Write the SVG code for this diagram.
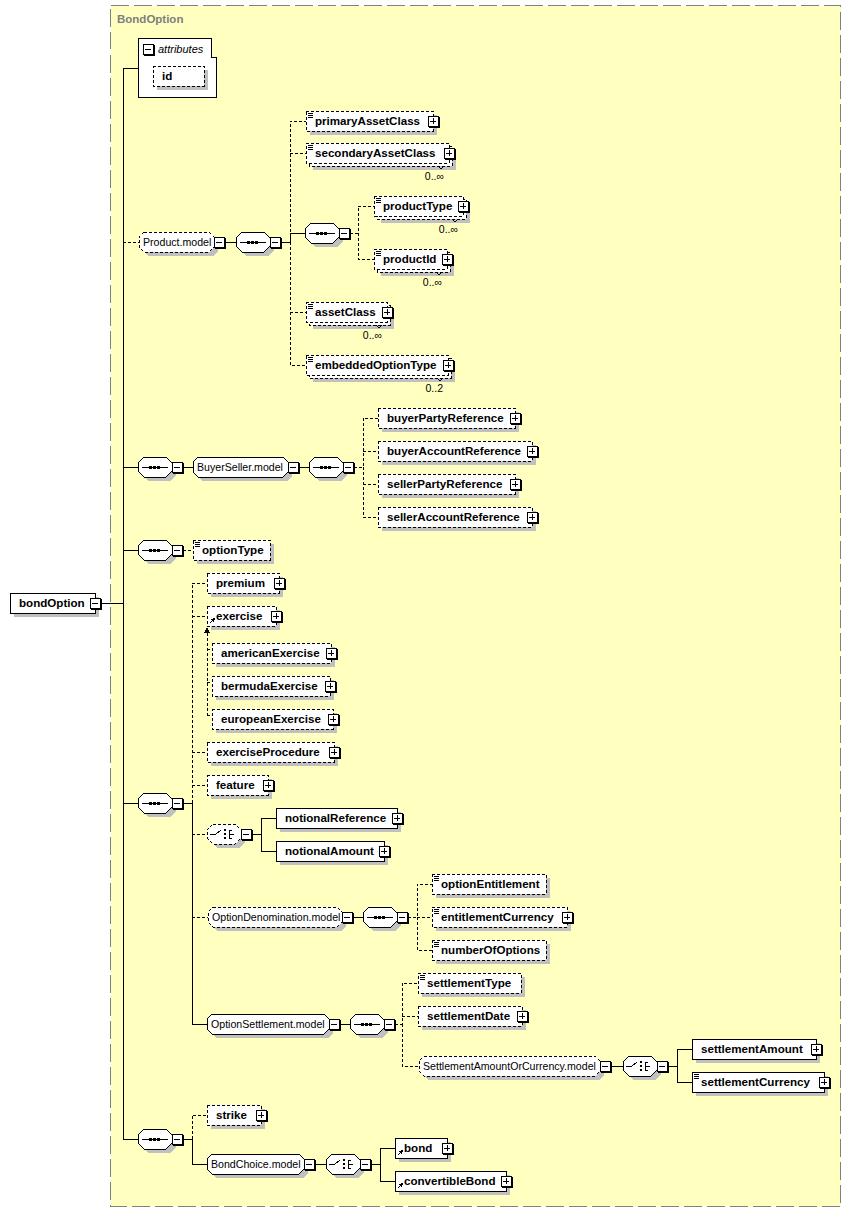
<svg xmlns="http://www.w3.org/2000/svg" xmlns:xlink="http://www.w3.org/1999/xlink" width="852" height="1213" viewBox="0 0 852 1213">
<style>
rect,path,use{shape-rendering:crispEdges}
.bg{fill:#ffffc0;stroke:#808080;stroke-dasharray:18,5}
.bx{fill:#fff;stroke:#000}
.d{stroke-dasharray:3,2}
.sh{fill:#c0c0c0;stroke:none}
.cn{fill:none;stroke:#000}
.k{fill:none;stroke:#000}
.t{font-family:"Liberation Sans",Arial,sans-serif;font-size:11.6px;font-weight:bold;fill:#000}
.g{font-family:"Liberation Sans",Arial,sans-serif;font-size:10.6px;fill:#000}
.m{font-family:"Liberation Sans",Arial,sans-serif;font-size:10.5px;fill:#000}
.ttl{font-family:"Liberation Sans",Arial,sans-serif;font-size:11.5px;font-weight:bold;fill:#808080}
.it{font-family:"Liberation Sans",Arial,sans-serif;font-size:11px;font-style:italic;fill:#000}
</style>
<defs>
<g id="pl"><rect x="-5" y="-5" width="10" height="10" fill="#fff" stroke="#000"/><path d="M6,-4V6H-4M-3,0H3M0,-3V3" fill="none" stroke="#000"/></g>
<g id="mi"><rect x="-5" y="-5" width="10" height="10" fill="#fff" stroke="#000"/><path d="M6,-4V6H-4M-3,0H3" fill="none" stroke="#000"/></g>
<path id="oct" d="M6,-10H28L34,-4V4L28,10H6L0,4V-4Z"/>
<g id="sq"><path d="M4,0H30" stroke="#000"/><rect x="11" y="-1" width="3" height="3" fill="#000"/><rect x="15" y="-1" width="3" height="3" fill="#000"/><rect x="19" y="-1" width="3" height="3" fill="#000"/></g>
<g id="ch"><path d="M3,0H9L14,-4M22,-4V4M22,-4H25M22,0H27M22,4H25" fill="none" stroke="#000"/><rect x="17" y="-5" width="2" height="2" fill="#000"/><rect x="17" y="-1" width="2" height="2" fill="#000"/><rect x="17" y="3" width="2" height="2" fill="#000"/></g>
<path id="si" d="M2,2H7M2,4H7M2,6H7" fill="none" stroke="#000"/>
<g id="su"><path d="M3,-3L6,-6" fill="none" stroke="#000"/><path d="M8,-8L3,-7L7,-3Z" fill="#000"/></g>
</defs>

<rect class="bg" x="110.5" y="5.5" width="730" height="1201"/>
<text class="ttl" x="117" y="23">BondOption</text>

<g id="connectors">
<path class="cn d" d="M123,242H139M290,242V121H306M290,153H306M290,242V365H306M290,312H306M350,233H358V206H374M358,233V259H374M354,467H363V418H378M363,451H378M363,467V517H378M363,484H378M183,550H193M192,803V583H207M192,616H207M192,752H207M192,785H207M192,834H207M192,917H208M408,917H417V884H432M417,917H432M417,917V950H432M395,1024H402V983H418M402,1016H418M402,1024V1066H419M192,1139V1115H207M207,633V715M207,649H212M207,682H212M207,715H212"/>
<path class="cn" d="M101,603H123M123,68V1139M123,68H138M123,467H138M123,550H138M123,803H138M123,1139H138M225,242H236M281,242H290V233H305M183,467H193M299,467H309M183,803H192V1024H207M252,834H261V818H276M261,834V851H276M353,917H363M340,1024H350M611,1066H623M668,1066H677V1049H692M677,1066V1082H692M183,1139H192V1164H207M315,1164H326M371,1164H380V1148H395M380,1164V1181H395"/>
<path d="M207,627L204,633H210Z" fill="#000"/>
</g>

<g id="bondOption"><rect class="sh" x="14" y="597" width="85" height="20"/><rect class="bx" x="10" y="593" width="85" height="20"/><use xlink:href="#mi" x="95" y="603"/><text class="t" x="19" y="607">bondOption</text></g>

<g id="attributes"><path class="bx" d="M138,38H211V57H216V97H138Z"/><use xlink:href="#mi" x="148" y="49"/><text class="it" x="158" y="53">attributes</text>
<rect class="sh" x="157" y="70" width="51" height="20"/><rect class="bx d" x="153" y="66" width="51" height="20"/><text class="t" x="162" y="80">id</text></g>

<g id="Product.model"><path class="sh" transform="translate(4,4)" d="M144,232H209L214,237V247L209,252H144L139,247V237Z"/><path class="bx d" d="M144,232H209L214,237V247L209,252H144L139,247V237Z"/><use xlink:href="#mi" x="219" y="242"/><text class="g" x="143" y="246">Product.model</text></g>
<g id="seqP"><use xlink:href="#oct" class="sh" x="240" y="246"/><use xlink:href="#oct" class="bx" x="236" y="242"/><use xlink:href="#sq" x="236" y="242"/><use xlink:href="#mi" x="275" y="242"/></g>
<g id="primaryAssetClass"><rect class="sh" x="310" y="115" width="127" height="20"/><rect class="bx d" x="306" y="111" width="127" height="20"/><use xlink:href="#si" x="306" y="111"/><use xlink:href="#pl" x="433" y="121"/><text class="t" x="315" y="125">primaryAssetClass</text></g>
<g id="secondaryAssetClass"><rect class="sh" x="313" y="150" width="143" height="20"/><rect class="bx d" x="309" y="146" width="143" height="20"/><rect class="bx d" x="306" y="143" width="143" height="20"/><use xlink:href="#si" x="306" y="143"/><use xlink:href="#pl" x="449" y="153"/><path class="k" d="M438,166L441,169L444,166"/><text class="t" x="315" y="157">secondaryAssetClass</text><text class="m" x="444" y="180" text-anchor="end">0..∞</text></g>
<g id="seqN"><use xlink:href="#oct" class="sh" x="309" y="237"/><use xlink:href="#oct" class="bx" x="305" y="233"/><use xlink:href="#sq" x="305" y="233"/><use xlink:href="#mi" x="344" y="233"/></g>
<g id="productType"><rect class="sh" x="381" y="203" width="89" height="20"/><rect class="bx d" x="377" y="199" width="89" height="20"/><rect class="bx d" x="374" y="196" width="89" height="20"/><use xlink:href="#si" x="374" y="196"/><use xlink:href="#pl" x="463" y="206"/><path class="k" d="M452,219L455,222L458,219"/><text class="t" x="383" y="210">productType</text><text class="m" x="458" y="233" text-anchor="end">0..∞</text></g>
<g id="productId"><rect class="sh" x="381" y="256" width="73" height="20"/><rect class="bx d" x="377" y="252" width="73" height="20"/><rect class="bx d" x="374" y="249" width="73" height="20"/><use xlink:href="#si" x="374" y="249"/><use xlink:href="#pl" x="447" y="259"/><path class="k" d="M436,272L439,275L442,272"/><text class="t" x="383" y="263">productId</text><text class="m" x="442" y="286" text-anchor="end">0..∞</text></g>
<g id="assetClass"><rect class="sh" x="313" y="309" width="81" height="20"/><rect class="bx d" x="309" y="305" width="81" height="20"/><rect class="bx d" x="306" y="302" width="81" height="20"/><use xlink:href="#si" x="306" y="302"/><use xlink:href="#pl" x="387" y="312"/><path class="k" d="M376,325L379,328L382,325"/><text class="t" x="315" y="316">assetClass</text><text class="m" x="382" y="339" text-anchor="end">0..∞</text></g>
<g id="embeddedOptionType"><rect class="sh" x="313" y="362" width="142" height="20"/><rect class="bx d" x="309" y="358" width="142" height="20"/><rect class="bx d" x="306" y="355" width="142" height="20"/><use xlink:href="#si" x="306" y="355"/><use xlink:href="#pl" x="448" y="365"/><path class="k" d="M437,378L440,381L443,378"/><text class="t" x="315" y="369">embeddedOptionType</text><text class="m" x="443" y="392" text-anchor="end">0..2</text></g>

<g id="seqB1"><use xlink:href="#oct" class="sh" x="142" y="471"/><use xlink:href="#oct" class="bx" x="138" y="467"/><use xlink:href="#sq" x="138" y="467"/><use xlink:href="#mi" x="177" y="467"/></g>
<g id="BuyerSeller.model"><path class="sh" transform="translate(4,4)" d="M198,457H283L288,462V472L283,477H198L193,472V462Z"/><path class="bx" d="M198,457H283L288,462V472L283,477H198L193,472V462Z"/><use xlink:href="#mi" x="293" y="467"/><text class="g" x="197" y="471">BuyerSeller.model</text></g>
<g id="seqB2"><use xlink:href="#oct" class="sh" x="313" y="471"/><use xlink:href="#oct" class="bx" x="309" y="467"/><use xlink:href="#sq" x="309" y="467"/><use xlink:href="#mi" x="348" y="467"/></g>
<g id="buyerPartyReference"><rect class="sh" x="382" y="412" width="137" height="20"/><rect class="bx d" x="378" y="408" width="137" height="20"/><use xlink:href="#pl" x="515" y="418"/><text class="t" x="387" y="422">buyerPartyReference</text></g>
<g id="buyerAccountReference"><rect class="sh" x="382" y="445" width="154" height="20"/><rect class="bx d" x="378" y="441" width="154" height="20"/><use xlink:href="#pl" x="532" y="451"/><text class="t" x="387" y="455">buyerAccountReference</text></g>
<g id="sellerPartyReference"><rect class="sh" x="382" y="478" width="137" height="20"/><rect class="bx d" x="378" y="474" width="137" height="20"/><use xlink:href="#pl" x="515" y="484"/><text class="t" x="387" y="488">sellerPartyReference</text></g>
<g id="sellerAccountReference"><rect class="sh" x="382" y="511" width="154" height="20"/><rect class="bx d" x="378" y="507" width="154" height="20"/><use xlink:href="#pl" x="532" y="517"/><text class="t" x="387" y="521">sellerAccountReference</text></g>

<g id="seqOT"><use xlink:href="#oct" class="sh" x="142" y="554"/><use xlink:href="#oct" class="bx" x="138" y="550"/><use xlink:href="#sq" x="138" y="550"/><use xlink:href="#mi" x="177" y="550"/></g>
<g id="optionType"><rect class="sh" x="197" y="544" width="77" height="20"/><rect class="bx d" x="193" y="540" width="77" height="20"/><use xlink:href="#si" x="193" y="540"/><text class="t" x="202" y="554">optionType</text></g>

<g id="seqBig"><use xlink:href="#oct" class="sh" x="142" y="807"/><use xlink:href="#oct" class="bx" x="138" y="803"/><use xlink:href="#sq" x="138" y="803"/><use xlink:href="#mi" x="177" y="803"/></g>
<g id="premium"><rect class="sh" x="211" y="577" width="72" height="20"/><rect class="bx d" x="207" y="573" width="72" height="20"/><use xlink:href="#pl" x="279" y="583"/><text class="t" x="216" y="587">premium</text></g>
<g id="exercise"><rect class="sh" x="211" y="610" width="69" height="20"/><rect class="bx d" x="207" y="606" width="69" height="20"/><use xlink:href="#su" x="207" y="626"/><use xlink:href="#pl" x="276" y="616"/><text class="t" x="216" y="620">exercise</text></g>
<g id="americanExercise"><rect class="sh" x="216" y="647" width="119" height="20"/><rect class="bx d" x="212" y="643" width="119" height="20"/><use xlink:href="#pl" x="331" y="653"/><text class="t" x="221" y="657">americanExercise</text></g>
<g id="bermudaExercise"><rect class="sh" x="216" y="680" width="118" height="20"/><rect class="bx d" x="212" y="676" width="118" height="20"/><use xlink:href="#pl" x="330" y="686"/><text class="t" x="221" y="690">bermudaExercise</text></g>
<g id="europeanExercise"><rect class="sh" x="216" y="713" width="121" height="20"/><rect class="bx d" x="212" y="709" width="121" height="20"/><use xlink:href="#pl" x="333" y="719"/><text class="t" x="221" y="723">europeanExercise</text></g>
<g id="exerciseProcedure"><rect class="sh" x="211" y="746" width="127" height="20"/><rect class="bx d" x="207" y="742" width="127" height="20"/><use xlink:href="#pl" x="334" y="752"/><text class="t" x="216" y="756">exerciseProcedure</text></g>
<g id="feature"><rect class="sh" x="211" y="779" width="61" height="20"/><rect class="bx d" x="207" y="775" width="61" height="20"/><use xlink:href="#pl" x="268" y="785"/><text class="t" x="216" y="789">feature</text></g>
<g id="choN"><use xlink:href="#oct" class="sh" x="211" y="838"/><use xlink:href="#oct" class="bx d" x="207" y="834"/><use xlink:href="#ch" x="207" y="834"/><use xlink:href="#mi" x="246" y="834"/></g>
<g id="notionalReference"><rect class="sh" x="280" y="812" width="121" height="20"/><rect class="bx" x="276" y="808" width="121" height="20"/><use xlink:href="#pl" x="397" y="818"/><text class="t" x="285" y="822">notionalReference</text></g>
<g id="notionalAmount"><rect class="sh" x="280" y="845" width="108" height="20"/><rect class="bx" x="276" y="841" width="108" height="20"/><use xlink:href="#pl" x="384" y="851"/><text class="t" x="285" y="855">notionalAmount</text></g>

<g id="OptionDenomination.model"><path class="sh" transform="translate(4,4)" d="M213,907H337L342,912V922L337,927H213L208,922V912Z"/><path class="bx d" d="M213,907H337L342,912V922L337,927H213L208,922V912Z"/><use xlink:href="#mi" x="347" y="917"/><text class="g" x="212" y="921">OptionDenomination.model</text></g>
<g id="seqOD"><use xlink:href="#oct" class="sh" x="367" y="921"/><use xlink:href="#oct" class="bx" x="363" y="917"/><use xlink:href="#sq" x="363" y="917"/><use xlink:href="#mi" x="402" y="917"/></g>
<g id="optionEntitlement"><rect class="sh" x="436" y="878" width="114" height="20"/><rect class="bx d" x="432" y="874" width="114" height="20"/><use xlink:href="#si" x="432" y="874"/><text class="t" x="441" y="888">optionEntitlement</text></g>
<g id="entitlementCurrency"><rect class="sh" x="436" y="911" width="135" height="20"/><rect class="bx d" x="432" y="907" width="135" height="20"/><use xlink:href="#si" x="432" y="907"/><use xlink:href="#pl" x="567" y="917"/><text class="t" x="441" y="921">entitlementCurrency</text></g>
<g id="numberOfOptions"><rect class="sh" x="436" y="944" width="114" height="20"/><rect class="bx d" x="432" y="940" width="114" height="20"/><use xlink:href="#si" x="432" y="940"/><text class="t" x="441" y="954">numberOfOptions</text></g>

<g id="OptionSettlement.model"><path class="sh" transform="translate(4,4)" d="M212,1014H324L329,1019V1029L324,1034H212L207,1029V1019Z"/><path class="bx" d="M212,1014H324L329,1019V1029L324,1034H212L207,1029V1019Z"/><use xlink:href="#mi" x="334" y="1024"/><text class="g" x="211" y="1028">OptionSettlement.model</text></g>
<g id="seqOS"><use xlink:href="#oct" class="sh" x="354" y="1028"/><use xlink:href="#oct" class="bx" x="350" y="1024"/><use xlink:href="#sq" x="350" y="1024"/><use xlink:href="#mi" x="389" y="1024"/></g>
<g id="settlementType"><rect class="sh" x="422" y="977" width="103" height="20"/><rect class="bx d" x="418" y="973" width="103" height="20"/><use xlink:href="#si" x="418" y="973"/><text class="t" x="427" y="987">settlementType</text></g>
<g id="settlementDate"><rect class="sh" x="422" y="1010" width="104" height="20"/><rect class="bx d" x="418" y="1006" width="104" height="20"/><use xlink:href="#pl" x="522" y="1016"/><text class="t" x="427" y="1020">settlementDate</text></g>
<g id="SettlementAmountOrCurrency.model"><path class="sh" transform="translate(4,4)" d="M424,1056H595L600,1061V1071L595,1076H424L419,1071V1061Z"/><path class="bx d" d="M424,1056H595L600,1061V1071L595,1076H424L419,1071V1061Z"/><use xlink:href="#mi" x="605" y="1066"/><text class="g" x="423" y="1070">SettlementAmountOrCurrency.model</text></g>
<g id="choS"><use xlink:href="#oct" class="sh" x="627" y="1070"/><use xlink:href="#oct" class="bx" x="623" y="1066"/><use xlink:href="#ch" x="623" y="1066"/><use xlink:href="#mi" x="662" y="1066"/></g>
<g id="settlementAmount"><rect class="sh" x="696" y="1043" width="124" height="20"/><rect class="bx" x="692" y="1039" width="124" height="20"/><use xlink:href="#pl" x="816" y="1049"/><text class="t" x="701" y="1053">settlementAmount</text></g>
<g id="settlementCurrency"><rect class="sh" x="696" y="1076" width="132" height="20"/><rect class="bx" x="692" y="1072" width="132" height="20"/><use xlink:href="#si" x="692" y="1072"/><use xlink:href="#pl" x="824" y="1082"/><text class="t" x="701" y="1086">settlementCurrency</text></g>

<g id="seqLast"><use xlink:href="#oct" class="sh" x="142" y="1143"/><use xlink:href="#oct" class="bx" x="138" y="1139"/><use xlink:href="#sq" x="138" y="1139"/><use xlink:href="#mi" x="177" y="1139"/></g>
<g id="strike"><rect class="sh" x="211" y="1109" width="54" height="20"/><rect class="bx d" x="207" y="1105" width="54" height="20"/><use xlink:href="#pl" x="261" y="1115"/><text class="t" x="216" y="1119">strike</text></g>
<g id="BondChoice.model"><path class="sh" transform="translate(4,4)" d="M212,1154H299L304,1159V1169L299,1174H212L207,1169V1159Z"/><path class="bx" d="M212,1154H299L304,1159V1169L299,1174H212L207,1169V1159Z"/><use xlink:href="#mi" x="309" y="1164"/><text class="g" x="211" y="1168">BondChoice.model</text></g>
<g id="choB"><use xlink:href="#oct" class="sh" x="330" y="1168"/><use xlink:href="#oct" class="bx" x="326" y="1164"/><use xlink:href="#ch" x="326" y="1164"/><use xlink:href="#mi" x="365" y="1164"/></g>
<g id="bond"><rect class="sh" x="399" y="1142" width="52" height="20"/><rect class="bx" x="395" y="1138" width="52" height="20"/><use xlink:href="#su" x="395" y="1158"/><use xlink:href="#pl" x="447" y="1148"/><text class="t" x="404" y="1152">bond</text></g>
<g id="convertibleBond"><rect class="sh" x="399" y="1175" width="111" height="20"/><rect class="bx" x="395" y="1171" width="111" height="20"/><use xlink:href="#su" x="395" y="1191"/><use xlink:href="#pl" x="506" y="1181"/><text class="t" x="404" y="1185">convertibleBond</text></g>
</svg>
